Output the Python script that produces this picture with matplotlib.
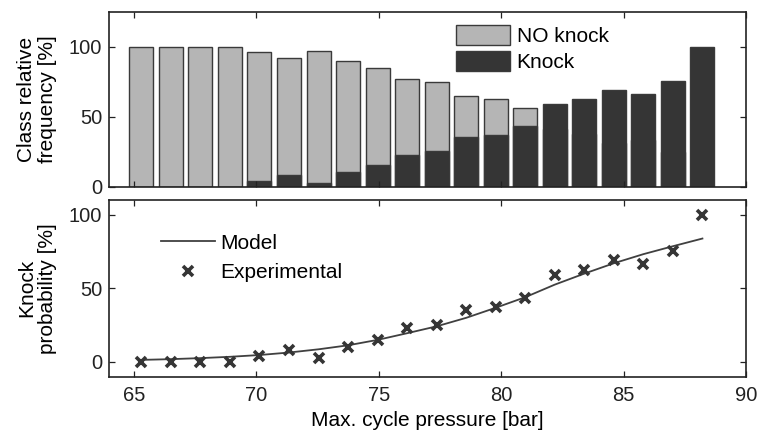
import matplotlib
matplotlib.use("Agg")
import matplotlib.pyplot as plt
from matplotlib.patches import Patch
from matplotlib.lines import Line2D

plt.rcParams['font.family'] = ['Liberation Sans', 'DejaVu Sans']

# Pressure class centres [bar]
pressure = [65.31, 66.52, 67.72, 68.93, 70.13, 71.34, 72.55, 73.75, 74.96, 76.16,
            77.37, 78.58, 79.78, 80.99, 82.19, 83.40, 84.60, 85.81, 87.02, 88.22]
# Share of knocking cycles in each class [%]
knock = [0, 0, 0, 0, 4, 8.3, 2.9, 10.2, 15.2, 22.8,
         25.2, 35.2, 37.0, 43.5, 58.9, 62.7, 69.1, 66.5, 75.5, 100]
# Share of non-knocking cycles [%]
no_knock = [100 - k for k in knock]
# Model knock probability at each class centre [%]
model = [1.4, 1.9, 2.6, 3.5, 4.7, 6.4, 8.6, 11.3, 15.0, 19.5,
         24.2, 30.0, 36.8, 44.0, 52.5, 60.0, 67.0, 73.2, 78.6, 83.8]

light = '#b5b5b5'
dark = '#353535'
edge = '#3a3a3a'
fs = 15
tfs = 14.5

fig = plt.figure(figsize=(7.6, 4.3), dpi=100)
ax1 = fig.add_axes([0.1438, 0.5658, 0.8378, 0.407])
ax2 = fig.add_axes([0.1438, 0.124, 0.8378, 0.411])

# Class frequencies: both shares drawn from zero, knock in front
ax1.bar(pressure, no_knock, width=0.98, color=light, edgecolor=edge, linewidth=1.0)
ax1.bar(pressure, knock, width=0.98, color=dark, edgecolor=edge, linewidth=1.0)
ax1.set_xlim(64, 90)
ax1.set_ylim(0, 125)
ax1.set_yticks([0, 50, 100])
ax1.set_xticks([65, 70, 75, 80, 85, 90])
ax1.tick_params(labelbottom=False)
ax1.set_ylabel('Class relative\nfrequency [%]', fontsize=fs, linespacing=1.12)
ax1.legend(handles=[Patch(facecolor=light, edgecolor=edge, label='NO knock'),
                    Patch(facecolor=dark, edgecolor=edge, label='Knock')],
           loc='upper left', bbox_to_anchor=(0.545, 0.925), frameon=False,
           fontsize=fs, handlelength=2.6, handleheight=1.1,
           handletextpad=0.3, labelspacing=0.25, borderaxespad=0, borderpad=0)

# Knock probability: model vs experiment
ax2.plot(pressure, model, color='#404040', linewidth=1.3)
ax2.plot(pressure, knock, linestyle='none', marker='x', markersize=7,
         markeredgewidth=2.6, color=dark)
ax2.set_xlim(64, 90)
ax2.set_ylim(-10, 110)
ax2.set_yticks([0, 50, 100])
ax2.set_xticks([65, 70, 75, 80, 85, 90])
ax2.set_xlabel('Max. cycle pressure [bar]', fontsize=fs, labelpad=4)
ax2.set_ylabel('Knock\nprobability [%]', fontsize=fs, linespacing=1.12)
ax2.legend(handles=[Line2D([], [], color='#404040', linewidth=1.3, label='Model'),
                    Line2D([], [], linestyle='none', marker='x', markersize=7,
                           markeredgewidth=2.6, color=dark, label='Experimental')],
           loc='upper left', bbox_to_anchor=(0.081, 0.81), frameon=False,
           fontsize=fs, handlelength=2.6, handletextpad=0.25, labelspacing=0.5,
           borderaxespad=0, borderpad=0)

for ax in (ax1, ax2):
    ax.tick_params(direction='in', length=4, width=0.9, top=True, right=True,
                   labelsize=tfs, colors='#222222')
    ax.tick_params(axis='y', pad=5)
    ax.tick_params(axis='x', pad=7)
    for s in ax.spines.values():
        s.set_linewidth(1.2)
        s.set_color('#222222')
    ax.yaxis.set_label_coords(-0.082, 0.5)

fig.savefig('out.png', dpi=100)
